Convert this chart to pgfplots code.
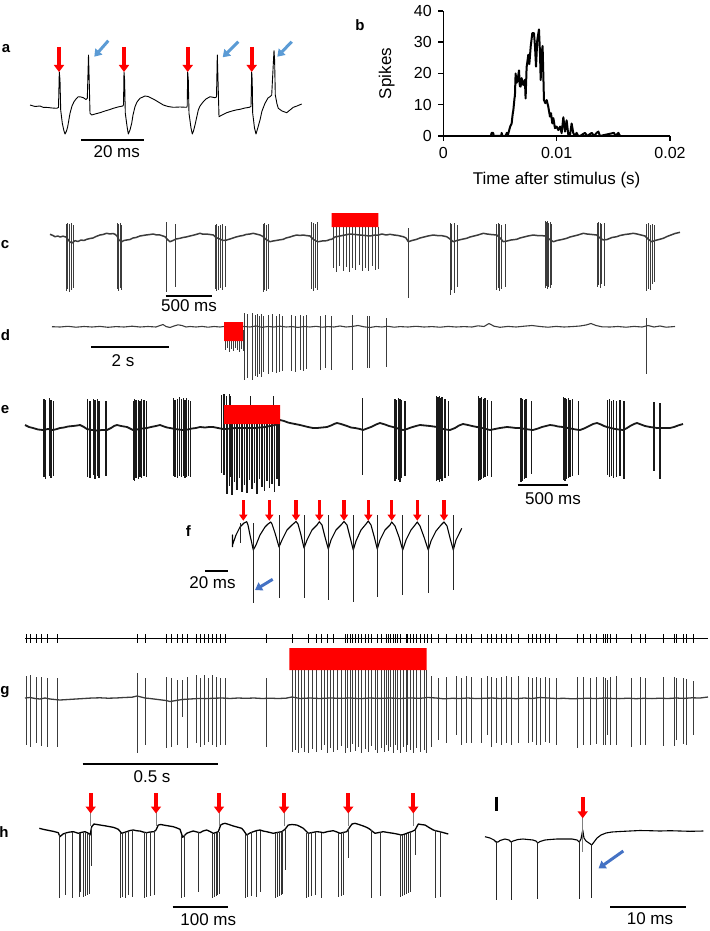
\documentclass[border=0pt]{standalone}
\usepackage{pgfplots}
\pgfplotsset{compat=1.18}
\usepackage{pgfplotstable}
\usepackage{fontspec}
\setmainfont{Liberation Sans}
\usetikzlibrary{arrows.meta}
\definecolor{tr}{HTML}{3C3C3C}
\definecolor{lb}{HTML}{5B9BD5}
\definecolor{db}{HTML}{4472C4}
\definecolor{stim}{RGB}{255,0,0}
\newcommand\lab{\fontsize{17}{20}\selectfont}
\newcommand\plab{\fontsize{15}{18}\selectfont\bfseries}
\pgfplotsset{spk/.style={quiver={u=0,v=\thisrow{b}-\thisrow{t}}}}
\tikzset{
  redarr/.style={draw=stim, line width=4pt, -{Triangle[length=7pt,width=10pt]}},
  redarrs/.style={draw=stim, line width=3.5pt, -{Triangle[length=6pt,width=8pt]}},
  bluarr/.style={draw=lb, line width=3pt, -{Triangle[length=7pt,width=9pt]}},
  dbluarr/.style={draw=db, line width=3pt, -{Triangle[length=7pt,width=9pt]}},
  sbar/.style={draw=black, line width=2pt},
}
% spike tables: x, top (t), bottom (b) in picture units
\pgfplotstableread[row sep=\\]{x t b\\
66 224 291\\ 67.5 223 289\\ 69 224 292\\ 71 223 290\\ 73.5 225 288\\
117 223 289\\ 118.5 224 291\\ 120 223 288\\ 121.5 225 290\\
166 222 292\\ 175 224 287\\
215 225 289\\ 216.5 224 291\\ 218 226 290\\ 220 225 288\\ 222 224 290\\ 225.5 226 287\\
263 224 292\\ 264.5 223 290\\ 266 225 291\\ 268 224 289\\
311.5 222 289\\ 313 223 291\\ 315 224 288\\ 317 222 290\\
333 227 268\\ 336 227 272\\ 339.5 227 266\\ 343 227 271\\ 346 227 267\\ 349 227 272\\ 352 227 268\\ 355.5 227 270\\ 359 227 265\\ 362 227 271\\ 365 227 268\\ 368.5 227 271\\ 372 227 266\\ 375 227 270\\ 378 227 269\\
408.3 228 298\\
450 223 295\\ 451.5 224 290\\ 454 223 293\\ 457 225 287\\
496.5 224 290\\ 498 223 288\\ 499.5 224 291\\ 501 225 289\\ 505 224 287\\
545 221 288\\ 546 222 286\\ 547 221 289\\ 548.5 223 287\\ 550 222 288\\ 551.5 224 285\\
597 223 287\\ 598.5 222 285\\ 600 223 288\\ 601.5 224 284\\ 604 223 286\\
646 224 291\\ 648 223 289\\ 650 225 290\\ 652 224 284\\ 654 225 282\\
}\spkc
\pgfplotstableread[row sep=\\]{x t b\\
225 330 350\\ 227 330 348\\ 229 330 352\\ 231 330 349\\ 233 330 351\\ 235 330 348\\ 237 330 350\\ 239 330 352\\ 241 330 349\\ 243 330 351\\
244 313 380\\ 247.7 314 378\\ 252.3 313 380\\ 255.5 315 376\\ 257.7 314 377\\ 259 316 374\\ 261 314 377\\ 263.6 316 372\\ 268.2 315 374\\ 272.7 314 372\\ 276.4 316 373\\ 279.5 314 372\\ 282.7 316 371\\ 290.9 315 371\\ 295.5 316 372\\ 300 315 370\\ 303.2 316 371\\ 306.8 315 369\\ 320.5 316 370\\ 325 315 368\\ 331.8 316 370\\ 352.3 315 370\\ 367.3 316 368\\ 369 316 368\\ 386.4 318 367\\ 646.8 318 374\\
}\spkd
\pgfplotstableread[row sep=\\]{x t b\\
44 399 477\\ 45.7 400 479\\ 49.3 398 476\\ 51 400 478\\ 53.3 401 476\\
87.3 399 477\\ 90 401 478\\ 93.3 399 475\\ 95 400 479\\ 97.3 399 476\\ 99 401 478\\ 106 401 476\\
133.3 401 480\\ 134.7 399 481\\ 136 400 478\\ 138.3 400 479\\ 140 401 477\\ 141.7 399 478\\ 144 400 476\\ 146.7 401 477\\
173.3 398 476\\ 175 400 477\\ 177.3 399 478\\ 179.3 397 476\\ 181.7 399 477\\ 183.3 398 476\\ 185 400 478\\ 186.7 398 477\\ 188.3 400 476\\ 190.7 401 477\\
221.7 395 473\\ 224 394 475\\ 226.7 396 474\\ 229.3 394 476\\ 230.7 396 477\\
250.7 396 406\\ 273.3 396 406\\
362.7 398 475\\
395 399 481\\ 396.7 400 479\\ 398.3 398 480\\ 400 399 482\\ 401.7 400 478\\ 405 401 476\\
436.7 396 481\\ 438 397 480\\ 439.3 396 482\\ 440.7 398 479\\ 442 397 481\\ 445 399 478\\ 448.3 401 476\\
478.3 396 481\\ 480 398 480\\ 481.7 397 479\\ 483.3 399 478\\ 485 398 477\\ 487.3 400 476\\ 491.7 401 477\\
521 398 482\\ 522.7 399 481\\ 524.3 400 479\\ 526 399 478\\ 531.7 401 474\\
563.3 397 480\\ 565 398 481\\ 566.7 399 479\\ 568.3 398 478\\ 570 400 477\\ 572.7 399 476\\ 578.3 401 475\\
607.3 400 475\\ 609.3 399 477\\ 611.7 401 476\\ 613.3 400 478\\ 616.7 401 477\\ 620 400 476\\ 624 401 479\\
654 402 471\\ 660 403 479\\
}\spke
\pgfplotstableread[row sep=\\]{x t b\\
227 423 494\\ 229.5 423 486\\ 232 423 495\\ 234.5 423 482\\ 237 423 490\\ 239.5 423 478\\ 242 423 492\\ 244.5 423 485\\ 247 423 493\\ 249.5 423 480\\ 252 423 489\\ 254.5 423 483\\ 257 423 494\\ 259.5 423 479\\ 262 423 487\\ 264.5 423 491\\ 267 423 481\\ 269.5 423 488\\ 272 423 484\\ 274.5 423 492\\ 277 423 479\\ 279 423 486\\
}\spkes
\pgfplotstableread[row sep=\\]{x t b\\
240 523 543\\ 253.3 523 603\\ 279 515 598\\ 304 515 598\\ 328.3 515 600\\ 353.3 515 602\\ 377.3 515 597\\ 402.7 515 595\\ 428.3 515 593\\ 453.3 515 590\\
}\spkf
\pgfplotstableread[row sep=\\]{x t b\\
26 634 643\\ 30.7 634 643\\ 36 634 643\\ 41.7 634 643\\ 47.3 634 643\\ 57.3 634 643\\ 137.3 634 643\\ 145.7 634 643\\ 166.7 634 643\\ 171.7 634 643\\ 177.3 634 643\\ 182.7 634 643\\ 187.3 634 643\\ 196 634 643\\ 200 634 643\\ 204 634 643\\ 208.3 634 643\\ 212.7 634 643\\ 216.7 634 643\\ 220.7 634 643\\ 225 634 643\\ 266.7 634 643\\ 292.3 634 643\\ 308.3 634 643\\ 316.7 634 643\\ 321.7 634 643\\ 327.3 634 643\\ 333.3 634 643\\ 345 634 643\\ 347.5 634 643\\ 350 634 643\\ 352.5 634 643\\ 355 634 643\\ 358 634 643\\ 361.7 634 643\\ 365 634 643\\ 368.3 634 643\\ 371.7 634 643\\ 377.7 634 643\\ 381 634 643\\ 386 634 643\\ 388.3 634 643\\ 390.7 634 643\\ 393.3 634 643\\ 395.7 634 643\\ 397.7 634 643\\ 400 634 643\\ 406 634 643\\ 407.3 634 643\\ 410 634 643\\ 413.3 634 643\\ 416.7 634 643\\ 420 634 643\\ 424 634 643\\ 427.3 634 643\\ 431.7 634 643\\ 438.3 634 643\\ 446.7 634 643\\ 456 634 643\\ 461 634 643\\ 466 634 643\\ 471.7 634 643\\ 481.7 634 643\\ 487.3 634 643\\ 491.7 634 643\\ 496.7 634 643\\ 501.7 634 643\\ 506.7 634 643\\ 511.7 634 643\\ 518.3 634 643\\ 528.3 634 643\\ 532.7 634 643\\ 536.7 634 643\\ 540.7 634 643\\ 545 634 643\\ 549.3 634 643\\ 556 634 643\\ 577.3 634 643\\ 583.3 634 643\\ 590 634 643\\ 596.7 634 643\\ 603.3 634 643\\ 605.7 634 643\\ 607.3 634 643\\ 610.7 634 643\\ 616.7 634 643\\ 631.7 634 643\\ 640.7 634 643\\ 645 634 643\\ 663.3 634 643\\ 674 634 643\\ 676 634 643\\ 683.3 634 643\\ 686.7 634 643\\ 693.3 634 643\\
}\raster
\pgfplotstableread[row sep=\\]{x t b\\
26 676 745\\ 30.7 675 747\\ 36 677 743\\ 41.7 677 746\\ 47.3 678 747\\ 57.3 678 747\\
137.3 673 753\\ 145.7 678 745\\
166.7 677 748\\ 171.7 678 747\\ 177.3 680 745\\ 182.7 680 717\\ 187.3 677 748\\ 196 675 743\\ 200 678 747\\ 204 675 745\\ 208.3 678 742\\ 212.7 675 745\\ 216.7 677 747\\ 220.7 678 745\\ 225 678 745\\
266.7 678 747\\
292.3 670 752\\ 295 670 750\\ 298.3 670 753\\ 301.7 670 748\\ 304 670 752\\ 308.3 670 753\\ 312 670 749\\ 316.7 670 752\\ 321.7 670 750\\ 324.5 670 745\\ 327.3 670 753\\ 330 670 748\\ 333.3 670 752\\ 337 670 750\\ 341 670 746\\ 345 670 753\\ 347.5 670 748\\ 350 670 752\\ 352.5 670 744\\ 355 670 751\\ 358 670 747\\ 361.7 670 753\\ 365 670 749\\ 368.3 670 752\\ 371.7 670 746\\ 375 670 750\\ 377.7 670 753\\ 381 670 748\\ 384 670 752\\ 386 670 745\\ 388.3 670 751\\ 390.7 670 747\\ 393.3 670 753\\ 395.7 670 745\\ 397.7 670 750\\ 400 670 753\\ 403 670 747\\ 406 670 752\\ 407.3 670 745\\ 410 670 750\\ 413.3 670 753\\ 416.7 670 748\\ 420 670 752\\ 424 670 750\\ 426.5 670 753\\
431.7 676 747\\ 438.3 678 740\\ 446.7 677 743\\ 456 676 735\\ 461 678 745\\ 466 676 743\\ 471.7 677 743\\ 481.7 678 743\\ 487.3 676 735\\ 491.7 677 747\\ 496.7 678 743\\ 501.7 677 745\\ 506.7 676 743\\ 511.7 677 745\\ 518.3 676 743\\ 528.3 677 743\\ 532.7 678 742\\ 536.7 677 745\\ 540.7 678 745\\ 545 677 742\\ 549.3 678 743\\ 556 678 745\\ 577.3 677 748\\ 583.3 677 745\\ 590 678 745\\ 596.7 677 744\\ 603.3 677 745\\ 605.7 678 745\\ 607.3 680 735\\ 610.7 677 745\\ 616.7 676 745\\ 631.7 678 747\\ 640.7 677 745\\ 645 678 745\\ 663.3 677 746\\ 674 677 746\\ 676 678 740\\ 683.3 678 744\\ 686.7 679 745\\ 693.3 681 735\\
}\spkg
\pgfplotstableread[row sep=\\]{x t b\\
59.3 834 898\\ 65 833 895\\ 72.7 832 898\\ 79 833 897\\ 80.7 833 892\\ 83.3 833 897\\ 85.7 832 896\\ 87.3 833 895\\ 89.3 834 894\\ 91.7 828 866\\
120.7 833 898\\ 122.7 833 897\\ 125 832 898\\ 128.3 831 895\\ 132.7 830 897\\ 144 832 898\\ 146.7 832 897\\ 150.7 832 896\\ 154 831 895\\
181.7 835 898\\ 184 835 897\\ 198.3 832 892\\ 212.3 833 898\\ 214 833 897\\ 216 833 896\\ 217.7 832 895\\ 219.3 832 894\\
245 834 898\\ 247.3 834 897\\ 251.7 832 896\\ 256.7 831 897\\ 260 831 892\\ 275 833 898\\ 277.3 832 897\\ 279.3 832 896\\ 281 832 895\\ 282.7 831 894\\ 285 829 870\\
306 833 898\\ 308.3 833 897\\ 311.7 832 896\\ 315 832 895\\ 321 833 898\\ 338.3 833 897\\ 341.7 833 896\\ 343.3 832 895\\ 348.3 828 858\\
371 830 898\\ 380 832 896\\ 400 834 897\\ 402.3 835 896\\ 404.3 835 895\\ 406 834 894\\ 408.3 833 893\\ 410.7 832 892\\ 415 830 855\\
435 830 898\\ 440 831 897\\
}\spkh
\pgfplotstableread[row sep=\\]{x t b\\
496 841 900\\ 511 841 900\\ 537.7 842 899\\ 579.3 841 899\\ 591.7 844 897.5\\
}\spkhr
\begin{document}
\begin{tikzpicture}[x=1pt,y=1pt]
\useasboundingbox (0pt,0pt) rectangle (709pt,931pt);
\begin{axis}[at={(0pt,0pt)}, anchor=south west, scale only axis, width=709pt, height=931pt,
  xmin=0, xmax=709, ymin=0, ymax=931, y dir=reverse, hide axis, clip=false]
% ---------------- panel a ----------------
\addplot[black, line width=0.9pt, line join=round] coordinates {
(30,105)(35,106.5)(40,106)(43,107.3)(48,107.5)(52,108)(56.7,108.3)(58.5,107.5)(59.3,72)(60,80)(60.7,110)(62.3,123.3)(64,131)(65,134)(66.5,131)(67.7,126.7)(70,113.3)(72,106)(74,101.7)(76,99)(78.3,96.7)(81,97)(83.3,97.7)(86,99.5)(87.3,98.3)(88.5,55)(89.2,80)(90,113.3)(91.7,115)(95,114)(100,112.7)(105,111)(110,109.5)(113.3,108.3)(118,107)(122.7,106)(123.5,105)(124,72)(124.6,80)(125.3,113.3)(127,126)(128.3,134)(130,130)(131.7,123.3)(133,115)(135,106.7)(137,102)(140,98.3)(145,96)(148,96.5)(151.7,98.3)(155,100)(160,103)(163.3,105)(168,106.5)(173.3,107.3)(180,107)(186.7,107.3)(187.2,106)(187.7,72)(188.3,80)(189,113.3)(191,128)(192.3,134)(193.5,131)(195,125)(198.3,110)(200,106)(203.3,101.7)(206,99)(210,96.7)(215,97.7)(216.5,97)(217.3,55)(218,80)(219,116.7)(222,115)(226.7,112.7)(232,111)(236,110)(240,109.3)(245,108)(249.3,107.3)(251,106.5)(251.7,72)(252.2,80)(252.7,113.3)(254.5,128)(256,134)(257.5,129)(260,120)(262,111)(265,103.3)(268,98)(270,96.7)(271.7,95)(273.5,60)(274,50.7)(274.6,60)(275.3,95)(277,104)(278.3,108.3)(282,111)(286.7,112.7)(290,110)(293.3,107.3)(297,106)(301.7,104)};
\pgfplotsinvokeforeach{59,124,187.7,251.7}{\draw[redarr] (#1,47) -- (#1,72);}
\draw[bluarr] (108.3,40.7) -- (94.3,56.7);
\draw[bluarr] (238.3,41.7) -- (222.7,57.3);
\draw[bluarr] (291.7,41.7) -- (277.3,56.7);
\draw[sbar] (81,140) -- (144,140);
\node[font=\lab] at (116.7,152) {20 ms};
\node[font=\plab] at (6,49) {a};
% ---------------- panel c ----------------
\addplot[tr, line width=1.5pt, line join=round] coordinates {
(50,234.3)(53,235.5)(55,236.7)(58,236)(60,237)(63,236.2)(66,237)(70,242)(72,243)(75,240.7)(78,241.5)(81,240)(84,240.5)(86.7,239.3)(90,238.5)(93,238)(96,236.5)(100,235)(103,234.5)(106.7,233.3)(110,234)(113,233.5)(115,234.3)(117,236)(119,240)(121.7,241.7)(124,240.5)(126.7,240)(130,239.5)(133,238)(136,237.5)(140,236)(143,235.5)(146,235)(150,234.5)(153.3,234)(156,234.8)(160,235)(163,236)(165,236.7)(168,240)(170,241.7)(173,240.5)(176,239)(180,238.3)(183,237.5)(186,237)(190,236)(193,235.3)(196,234.5)(200,233.3)(203,234.2)(206,234)(210,234.5)(213.3,235)(216,237.5)(220,239)(223,240.5)(226.7,240)(230,239)(233,238)(236,237)(240,236)(243,235.5)(246,234.5)(250,234)(253.3,233.3)(256,234)(260,235)(263.3,236.7)(266,239.5)(270,241.7)(273,241)(276,240.5)(280,239.8)(283.3,239.3)(286,238)(290,237)(293,236)(296.7,235)(300,235.5)(303,235)(306,235.5)(310,236)(313,239)(316,241)(318.3,241.7)(322,241)(326.7,240.7)(330,239.5)(331.7,239.3)(335,237)(340,236)(345,235)(350,234)(355,234.5)(360,235)(365,235.5)(370,236)(375,235)(378.3,235)(382,234)(386,235)(390,234.3)(394,235)(398,235.5)(403.3,236.7)(406,238)(408.3,241.7)(412,240.5)(416.7,239.3)(420,238)(424,237)(428,236)(433.3,235)(437,235.5)(441,235.5)(446.7,236.7)(450,239)(453.3,241.7)(457,240.5)(461,239.5)(466.7,238.3)(470,237)(474,236)(478,235)(483.3,233.3)(487,234)(491,234.5)(496.7,235)(500,238)(503.3,241.7)(507,241)(511,240)(516.7,239.3)(520,238)(524,237)(528,236)(533.3,235)(537,235.5)(541,235.5)(545,236)(549,239)(553.3,241.7)(557,240.5)(562,239.5)(566.7,238.3)(570,237)(574,236)(578,235)(583.3,233.3)(587,234)(592,234.5)(596.7,235)(600,238)(603.3,240)(607,239.5)(612,237.5)(616.7,236.7)(620,235.5)(625,234.5)(629,234)(633.3,233.3)(637,234)(641,235)(645,236)(648,239)(651.7,241.7)(655,240.5)(659,239.5)(663.3,238.3)(667,236.5)(671,235)(675,233.5)(680,232.3)};
\addplot[tr, line width=1pt, spk] table[x=x, y=t] {\spkc};
\addplot[fill=stim, draw=none] coordinates {(331.7,213)(378.3,213)(378.3,227)(331.7,227)(331.7,213)};
\draw[sbar] (165.7,295.7) -- (212.3,295.7);
\node[font=\lab] at (189,306) {500 ms};
\node[font=\plab] at (5,245) {c};
% ---------------- panel d ----------------
\addplot[tr, line width=1.1pt, line join=round] coordinates {
(52,326.7)(60,327)(68,326.3)(76,327.2)(84,326.5)(92,327)(100,326.4)(108,327.3)(116,326.6)(124,327)(132,326.2)(140,327)(148,326.5)(156,327)(160,325.5)(163,324.5)(166,326.5)(170,327.5)(174,326)(178,324.8)(182,325.5)(186,327)(190,326.5)(196,327)(202,326.4)(208,327.2)(214,326.5)(220,327)(224,326.5)(244,326.5)(250,327)(256,326)(262,327.3)(268,326.5)(274,327)(280,326.2)(286,327)(292,326.6)(298,327.4)(304,326.5)(310,327)(316,326.3)(322,327.2)(328,326.6)(334,327)(340,326)(346,327)(352,326.5)(358,325.5)(364,326.8)(370,327.5)(376,326.5)(382,327)(388,326.3)(394,327.2)(400,326.6)(408,327)(416,326.3)(424,327)(432,326.6)(440,327.2)(448,326.4)(456,327)(464,326.6)(472,327)(478,325.8)(484,326.5)(489,323.5)(494,326.2)(500,327.3)(508,326.4)(516,327)(524,326.2)(532,325.5)(540,326.5)(548,327.2)(556,326.4)(564,327)(572,326.6)(580,326)(586,325)(591,323.5)(596,325.5)(602,326.8)(610,327)(618,326.5)(626,327.2)(634,326.4)(642,327)(648,325.5)(654,327)(660,326)(666,327.2)(675,326.5)};
\addplot[tr, line width=0.8pt, spk] table[x=x, y=t] {\spkd};
\addplot[fill=stim, draw=none] coordinates {(224,322)(243,322)(243,341)(224,341)(224,322)};
\draw[sbar] (91,346.7) -- (169,346.7);
\node[font=\lab] at (123,361) {2 s};
\node[font=\plab] at (5.5,335) {d};
% ---------------- panel e ----------------
\addplot[black!90, line width=1.8pt, line join=round] coordinates {
(25,425)(29,427)(33,428)(38,429.5)(43,430)(48,429)(53,430)(57,429)(60,428)(64,427.5)(68,426.5)(73,426)(77,425.5)(80,425)(84,427)(87,429)(92,430)(97,430.5)(102,430)(107,430)(111,428)(114,426)(117,425)(121,426)(124,426.5)(127,427)(130,428.5)(133,430)(137,429.5)(142,428.5)(147,428)(151,427)(156,426)(160,425)(164,426.5)(167,427.5)(170,428)(175,429)(179,429.5)(183,430)(188,429.5)(192,428.5)(196,428)(200,427)(205,427.5)(209,427)(213,427)(218,428)(223,429)(226,429)(235,428)(245,428)(255,428)(265,427)(275,425)(280,420)(284,421)(288,422.5)(290,423)(295,424)(300,425)(304,426)(308,427)(313,428)(317,428)(322,427.5)(327,427)(331,425.5)(334,424)(337,423)(341,424)(344,425)(347,426)(351,427.5)(355,428)(360,429)(363,430)(367,428.5)(371,427)(376,424.5)(380,423)(385,424.5)(389,426)(393,427)(398,428.5)(403,430)(407,429)(411,427.5)(416,426)(420,425)(425,425.5)(430,426)(437,427)(441,428.5)(446,429.5)(450,430)(455,428)(459,425.5)(463,424)(468,425)(472,426)(477,427)(482,428)(486,429)(490,430)(495,429)(500,428)(507,427)(512,427.5)(516,428)(520,428)(525,429)(529,429.5)(533,430)(538,428.5)(542,427)(546,426)(550,425)(554,425.5)(558,426.5)(563,427)(568,428)(573,429)(576,429.5)(580,430)(584,428.5)(589,426)(593,424)(597,423)(601,424.5)(604,426)(607,427)(611,428)(615,429)(619,429.5)(623,430)(627,428)(631,425.5)(634,424)(637,423)(641,424.5)(645,426)(650,427)(654,427.5)(657,428)(662,428)(666,428)(670,428)(674,427)(678,425.5)(683,424)};
\addplot[black!90, line width=1.2pt, spk] table[x=x, y=t] {\spke};
\addplot[black!90, line width=1.15pt, spk] table[x=x, y=t] {\spkes};
\addplot[fill=stim, draw=none] coordinates {(224,405)(280,405)(280,424)(224,424)(224,405)};
\draw[sbar] (517.7,485) -- (568.3,485);
\node[font=\lab] at (553,498.5) {500 ms};
\node[font=\plab] at (5,410) {e};
% ---------------- panel f ----------------
\addplot[black, line width=1.1pt, line join=round] coordinates {
(232.5,547)(232.5,535)(232.5,545)(236,535)(240,527)(244,523)(246.7,521.7)(248,525)(250,535)(253.3,550)(256,545)(260,535)(265,527)(268,524)(270.7,522)(272,524)(275,533)(279,547)(282,540)(287,530)(292,525)(296,521.5)(298,524)(301,535)(304,548)(307,540)(312,530)(317,525)(319.3,521.7)(322,525)(325,537)(328.3,549)(331,540)(336,530)(341,525)(344,521.5)(347,525)(350,537)(353.3,550)(356,541)(361,530)(366,524)(368.3,521)(371,525)(374,536)(377.3,549)(380,540)(385,530)(390,525)(391.7,522)(395,526)(399,537)(402.7,550)(406,540)(411,530)(415,525)(417.3,522)(420,526)(424,537)(428.3,550)(431,541)(436,531)(441,525)(444,522)(447,526)(450,538)(453.3,550)(456,540)(459,534)(461.7,528.3)};
\addplot[black!85, line width=0.9pt, spk] table[x=x, y=t] {\spkf};
\pgfplotsinvokeforeach{243.3,269.3,296,319.3,344,368.3,391.7,417.3,444}{\draw[redarrs] (#1,500) -- (#1,520.7);}
\draw[dbluarr] (272.7,579.3) -- (255,590);
\draw[sbar] (205,570.7) -- (228.3,570.7);
\node[font=\lab] at (212.5,582.5) {20 ms};
\node[font=\plab] at (188.3,531) {f};
% ---------------- raster and panel g ----------------
\addplot[black, line width=0.8pt] coordinates {(25,638.3)(708,638.3)};
\addplot[black, line width=0.8pt, spk] table[x=x, y=t] {\raster};
\addplot[tr, line width=1.3pt, line join=round] coordinates {
(25,698)(30,697.5)(35,698.5)(40,699)(45,698)(50,699)(55,699.5)(60,700)(68,699.5)(76,699)(84,698.5)(92,698)(100,697.8)(108,698.2)(116,698)(124,697.5)(132,697.2)(137,696)(141,697)(145,698)(150,698.5)(158,699.5)(166,700.5)(170,701.5)(176,700.5)(182,699.5)(190,699)(198,698.5)(206,698.6)(214,698.2)(222,698)(230,698.5)(238,698)(246,698.3)(254,698)(262,698.5)(270,698.2)(278,698.5)(286,698.2)(292,697)(300,698.5)(310,698)(320,698.5)(330,698)(340,698.3)(350,698)(360,698.6)(370,698)(380,698.4)(390,698)(400,698.5)(410,698)(420,698.3)(428,697.5)(436,698)(444,698.8)(452,698.3)(460,698.5)(468,698)(476,698.6)(484,698.3)(492,698)(500,698.5)(508,698.2)(516,698.7)(524,698)(532,698.5)(540,697.5)(548,698)(556,698.5)(564,698.3)(572,698.8)(580,698.5)(588,698.2)(596,698.6)(604,698)(612,698.4)(620,698.6)(628,698.2)(636,698.7)(644,698.3)(652,698.6)(660,698.2)(668,698.5)(676,698)(684,698.4)(692,697.8)(700,698)(708,697)};
\addplot[tr, line width=0.9pt, spk] table[x=x, y=t] {\spkg};
\addplot[fill=stim, draw=none] coordinates {(289.3,648)(426.7,648)(426.7,670)(289.3,670)(289.3,648)};
\draw[sbar] (82.7,764) -- (218.3,764);
\node[font=\lab] at (152,777) {0.5 s};
\node[font=\plab] at (5,692) {g};
% ---------------- panel h (left) ----------------
\addplot[black, line width=1.3pt, line join=round] coordinates {
(39.3,828.3)(44,829.5)(50,830.7)(54,831.5)(58.3,832.7)(60,836.7)(63,834)(66.7,832.7)(70,832)(73.3,831.7)(76,832.5)(78.3,833.3)(81,832.5)(85,831.7)(88,833)(90,835)(91.7,826.7)(94,824)(97,824.5)(100,825)(105,825.8)(110,826.7)(114,827.5)(118.3,829.3)(121.7,833.3)(124,832.5)(126.7,831.7)(130,830.5)(133.3,830)(137,830.8)(140,831)(143,832)(146.7,832.7)(150,832)(154,831.7)(156,830)(158.3,825)(161,824.5)(163.3,825)(168,825.8)(173.3,826.7)(177,828)(180,829.3)(182.7,837.3)(185,835)(186.7,833.3)(190,832)(193.3,831)(197,832)(200,832.7)(203,831)(206.7,830)(210,831.5)(213.3,833.3)(216,832.5)(218.3,831.7)(220.7,825)(223,823.8)(225,823.3)(229,824.5)(233.3,826)(237,827)(241.7,828.3)(244,831)(246.7,835)(250,833)(253.3,831.7)(257,830.5)(260,830)(263,831)(266.7,831.7)(270,832.5)(273.3,833.3)(277,832.5)(281.7,831.7)(285,829.3)(288.3,825)(292,824.5)(296.7,825)(300,826.5)(303.3,828.3)(306,831)(308.3,833.3)(312,832.5)(316.7,831.7)(320,832)(323.3,832.7)(328,831.5)(333.3,830.7)(337,832)(340,833.3)(343,832.5)(346.7,831.7)(350,826.7)(352,824)(355,823.3)(359,824.5)(363.3,826)(367,827.5)(370,829.3)(372,831)(375,833.3)(379,832.5)(383.3,831.7)(388,832.5)(393.3,833.3)(397,834)(401.7,835)(405,834)(408.3,832.7)(412,831.5)(415,830)(418.3,824)(421,824.5)(425,825)(429,827.5)(433.3,830)(436,830.8)(440,831.7)(444,832.8)(448.3,834)};
\addplot[black!80, line width=0.8pt, spk] table[x=x, y=t] {\spkh};
\pgfplotsinvokeforeach{90.7,156,219,284,348.3,413.3}{
  \draw[gray, line width=0.8pt] (#1,812) -- (#1,826);
  \draw[redarr] (#1,793) -- (#1,813.5);}
\draw[sbar] (172.7,907.3) -- (228.3,907.3);
\node[font=\lab] at (208.3,919.5) {100 ms};
\node[font=\plab] at (4,832) {h};
% ---------------- panel h (right) ----------------
\addplot[black, line width=1.1pt, line join=round] coordinates {
(485,836.7)(490,838)(494,840)(496,842)(498,842)(500,840.5)(505,839)(509,840)(511,842)(513,841)(518,839.5)(523,839)(528,839.5)(533,840)(536,841)(537.7,843)(540,841.5)(545,840)(550,839.5)(557,839)(565,839)(572,839)(577,840)(579.3,842)(581,839)(582.7,830)(584,838)(586,841)(589,843)(591.7,845)(594,842)(597,838)(601,835)(606,833)(612,832)(620,831.5)(630,831)(640,830.5)(650,830.7)(660,831)(670,830.7)(680,831)(690,831.3)(703.3,831)};
\addplot[black!85, line width=0.9pt, spk] table[x=x, y=t] {\spkhr};
\draw[gray, line width=0.8pt] (582.7,817) -- (582.7,852);
\draw[redarr] (582.7,797.3) -- (582.7,818.3);
\draw[dbluarr] (623.3,851) -- (598.5,868.5);
\draw[black, line width=2.5pt] (496.7,796.7) -- (496.7,810.7);
\draw[sbar] (610,906.7) -- (686,906.7);
\node[font=\lab] at (650,918.5) {10 ms};
\end{axis}
% ---------------- panel b ----------------
\begin{axis}[at={(443.3pt,795pt)}, anchor=south west, scale only axis,
  width=226.7pt, height=125pt, xmin=0, xmax=0.02, ymin=0, ymax=40,
  axis x line*=bottom, axis y line*=left,
  scaled x ticks=false, scaled y ticks=false,
  xtick={0,0.01,0.02}, xticklabels={0,0.01,0.02},
  ytick={0,10,20,30,40}, yticklabels={0,10,20,30,40},
  tick align=outside, major tick length=5pt,
  axis line style={line width=1.5pt}, tick style={line width=1.5pt, black},
  xticklabel style={font=\fontsize{16}{19}\selectfont, yshift=-3pt},
  yticklabel style={font=\fontsize{16}{19}\selectfont, xshift=-3pt},
  /pgf/number format/assume math mode=true,
  xlabel={Time after stimulus (s)}, ylabel={Spikes},
  every axis x label/.style={at={(axis description cs:0.5,-0.352)}, anchor=center, font=\lab},
  every axis y label/.style={at={(axis description cs:-0.25,0.5)}, rotate=90, anchor=center, font=\lab},
  clip=false]
\addplot[black, line width=2pt, line join=round] coordinates {
(0.0042,0)(0.00426,1)(0.0044,1)(0.00445,0)(0.0051,0)(0.00515,1)(0.0052,0)(0.0055,0)(0.0056,1)(0.0057,0)(0.00574,0.9)(0.0059,3)(0.00603,4)(0.00612,7)(0.00618,8.3)(0.00628,12)(0.00632,13)(0.00638,20)(0.00645,17)(0.00653,17.4)(0.0066,19)(0.00668,21)(0.00675,16)(0.00682,15.8)(0.00691,18.5)(0.00706,16.3)(0.0072,18)(0.00726,12)(0.00735,22)(0.0075,26)(0.00759,23)(0.00771,28.6)(0.00785,32.9)(0.008,32.9)(0.00809,28.6)(0.00818,22.2)(0.00829,30.7)(0.00844,34.1)(0.00853,26.5)(0.00859,17.9)(0.00868,26.5)(0.00876,28.8)(0.00888,11.5)(0.009,10.5)(0.00912,11.5)(0.00926,9.4)(0.00941,6.2)(0.0095,7.3)(0.00962,4)(0.00971,5.7)(0.00985,2.5)(0.01,3)(0.01015,1.9)(0.0103,3)(0.01044,0.9)(0.01059,6)(0.01074,1.4)(0.01088,5)(0.01103,0.3)(0.01118,0.3)(0.01132,4)(0.01147,0.9)(0.01162,0)(0.01176,1)(0.0119,0)(0.01206,0)(0.0125,1)(0.0127,0)(0.0131,1)(0.0133,0)(0.01353,1)(0.01368,1.4)(0.01382,0)(0.01506,1)(0.0152,0)(0.01544,1)(0.0156,0)};
\end{axis}
\node[font=\plab] at (360pt,906pt) {b};
\end{tikzpicture}
\end{document}
